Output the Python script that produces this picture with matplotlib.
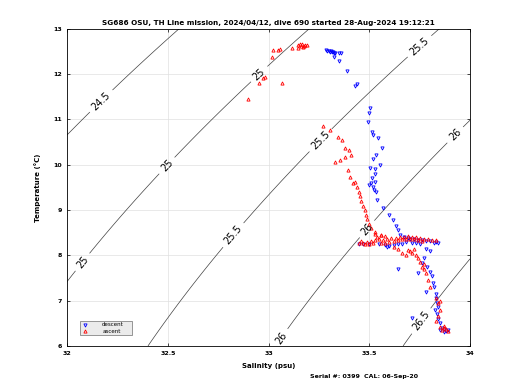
import numpy as np
import matplotlib
matplotlib.use("Agg")
import matplotlib.pyplot as plt

# descent (blue) and ascent (red) T-S points
desc_s = [33.285, 33.29, 33.30, 33.31, 33.32, 33.305, 33.315, 33.325, 33.33, 33.35, 33.36,
          33.325, 33.35, 33.39, 33.44, 33.43,
          33.504, 33.50, 33.495, 33.514, 33.516, 33.545, 33.565, 33.535, 33.52, 33.555,
          33.53, 33.505, 33.53, 33.515, 33.53, 33.50, 33.52, 33.51, 33.525, 33.535, 33.54,
          33.57, 33.60, 33.615, 33.63, 33.64, 33.65,
          33.67, 33.69, 33.70, 33.72, 33.74, 33.76, 33.78, 33.80, 33.82, 33.83, 33.84,
          33.68, 33.71, 33.73, 33.75, 33.66, 33.64, 33.62, 33.60, 33.58, 33.55, 33.50,
          33.47, 33.45, 33.59,
          33.78, 33.80, 33.77, 33.76, 33.785, 33.80, 33.81, 33.815, 33.82, 33.83, 33.83,
          33.835, 33.84, 33.825, 33.835, 33.84, 33.85, 33.86, 33.87, 33.85, 33.88, 33.89,
          33.87, 33.71, 33.64, 33.74, 33.78]
desc_t = [12.53, 12.52, 12.52, 12.51, 12.50, 12.49, 12.48, 12.46, 12.47, 12.47, 12.46,
          12.38, 12.29, 12.07, 11.78, 11.74,
          11.26, 11.15, 10.95, 10.73, 10.65, 10.58, 10.37, 10.22, 10.12, 10.00,
          9.90, 9.93, 9.80, 9.70, 9.62, 9.55, 9.50, 9.60, 9.45, 9.40, 9.22,
          9.05, 8.88, 8.78, 8.65, 8.55, 8.45,
          8.40, 8.38, 8.35, 8.36, 8.33, 8.34, 8.31, 8.32, 8.28, 8.30, 8.27,
          8.30, 8.28, 8.27, 8.25, 8.25, 8.24, 8.22, 8.20, 8.22, 8.25, 8.25,
          8.25, 8.24, 8.18,
          8.15, 8.10, 7.95, 7.83, 7.74, 7.63, 7.55, 7.40, 7.30, 7.15, 7.05,
          6.95, 6.85, 6.80, 6.70, 6.60, 6.50, 6.40, 6.38, 6.35, 6.33, 6.36,
          6.30, 6.62, 7.70, 7.60, 7.20]

asc_s = [33.86, 33.87, 33.88, 33.85, 33.87, 33.89, 33.83, 33.84, 33.85, 33.84, 33.85,
         33.83, 33.80, 33.79, 33.78, 33.77, 33.76, 33.75, 33.77, 33.74, 33.73, 33.71,
         33.70, 33.69, 33.72, 33.66, 33.68, 33.64, 33.62,
         33.45, 33.47, 33.49, 33.51, 33.53, 33.55, 33.57, 33.59, 33.61, 33.63, 33.65,
         33.67, 33.69, 33.71, 33.73, 33.75, 33.77, 33.79, 33.81, 33.83, 33.60, 33.62,
         33.64, 33.66, 33.68, 33.70, 33.72, 33.74, 33.76, 33.56, 33.52, 33.50, 33.48,
         33.46, 33.58, 33.54, 33.56, 33.53,
         33.58, 33.56, 33.53, 33.51, 33.50, 33.49, 33.485, 33.48, 33.47, 33.46, 33.455,
         33.45, 33.44, 33.42, 33.43, 33.404, 33.395, 33.33, 33.355, 33.38, 33.41, 33.40,
         33.38, 33.365, 33.345, 33.305, 33.27,
         33.067, 32.898, 32.953, 32.973, 32.983, 33.022, 33.017, 33.047, 33.055, 33.117,
         33.146, 33.156, 33.166, 33.181, 33.191, 33.17, 33.146, 33.175, 33.16]
asc_t = [6.35, 6.40, 6.38, 6.42, 6.45, 6.33, 6.55, 6.65, 6.80, 6.95, 7.00,
         7.05, 7.30, 7.45, 7.60, 7.70, 7.75, 7.85, 7.80, 7.95, 8.00, 8.05,
         8.10, 8.12, 8.14, 8.05, 8.00, 8.15, 8.18,
         8.28, 8.27, 8.30, 8.32, 8.33, 8.35, 8.34, 8.36, 8.38, 8.39, 8.40,
         8.41, 8.42, 8.41, 8.40, 8.38, 8.37, 8.36, 8.34, 8.33, 8.30, 8.32,
         8.33, 8.35, 8.36, 8.37, 8.35, 8.34, 8.32, 8.28, 8.27, 8.26, 8.25,
         8.31, 8.27, 8.40, 8.44, 8.48,
         8.42, 8.45, 8.52, 8.60, 8.70, 8.80, 8.90, 9.00, 9.10, 9.20, 9.30,
         9.40, 9.50, 9.60, 9.62, 9.73, 9.89, 10.06, 10.11, 10.17, 10.22, 10.33,
         10.37, 10.55, 10.62, 10.77, 10.85,
         11.81, 11.45, 11.81, 11.92, 11.94, 12.54, 12.38, 12.54, 12.55, 12.58,
         12.65, 12.67, 12.67, 12.65, 12.65, 12.60, 12.58, 12.63, 12.62]

sigma_levels = [24.5, 25.0, 25.5, 26.0, 26.5]
label_pos = [(32.164, 11.43),
             (32.074, 7.86), (32.491, 10.0), (32.958, 11.98),
             (32.824, 8.45), (33.256, 10.55), (33.752, 12.60),
             (33.007, 6.35), (33.494, 8.56), (33.926, 10.66),
             (33.752, 6.57)]


def sigma0(S, T):
    # UNESCO 1983 density at surface pressure, minus 1000
    rw = (999.842594 + 6.793952e-2 * T - 9.095290e-3 * T**2 + 1.001685e-4 * T**3
          - 1.120083e-6 * T**4 + 6.536332e-9 * T**5)
    A = 0.824493 - 4.0899e-3 * T + 7.6438e-5 * T**2 - 8.2467e-7 * T**3 + 5.3875e-9 * T**4
    B = -5.72466e-3 + 1.0227e-4 * T - 1.6546e-6 * T**2
    return rw + A * S + B * S**1.5 + 4.8314e-4 * S**2 - 1000.0


fig = plt.figure(figsize=(5.2, 3.9), dpi=100)
ax = fig.add_axes([0.129, 0.113, 0.775, 0.813])

sg, tg = np.meshgrid(np.linspace(32, 34, 200), np.linspace(6, 13, 200))
cs = ax.contour(sg, tg, sigma0(sg, tg), levels=sigma_levels, colors='0.25', linewidths=0.5)
ax.clabel(cs, fmt=lambda v: f'{v:g}', fontsize=7, inline=True, manual=label_pos, colors='k')

ax.plot(desc_s, desc_t, 'v', color='blue', markersize=2.3, mfc='none', mew=0.6,
        label='descent', zorder=3)
ax.plot(asc_s, asc_t, '^', color='red', markersize=2.3, mfc='none', mew=0.6,
        label='ascent', zorder=3)

ax.set_xlim(32, 34)
ax.set_ylim(6, 13)
ax.set_xticks([32, 32.5, 33, 33.5, 34])
ax.set_xticklabels(['32', '32.5', '33', '33.5', '34'])
ax.set_yticks(range(6, 14))
ax.tick_params(labelsize=4.5, length=2, width=0.5, direction='in', top=True, right=True)
for lab in ax.get_xticklabels() + ax.get_yticklabels():
    lab.set_fontweight('bold')
ax.grid(True, color='0.88', linewidth=0.5)
ax.set_axisbelow(True)
for sp in ax.spines.values():
    sp.set_linewidth(0.6)

ax.set_xlabel('Salinity (psu)', fontsize=5, fontweight='bold', labelpad=5)
ax.set_ylabel('Temperature (\u00b0C)', fontsize=5, fontweight='bold', labelpad=9)
ax.set_title('SG686 OSU, TH Line mission, 2024/04/12, dive 690 started 28-Aug-2024 19:12:21',
             fontsize=5.2, fontweight='bold', pad=3)

leg = ax.legend(loc='lower left', bbox_to_anchor=(0.025, 0.025, 0.144, 0.057),
                mode='expand', fontsize=4, frameon=True, fancybox=False,
                borderpad=0.3, handletextpad=2.5, labelspacing=0.2, handlelength=1.2)
leg.get_frame().set_facecolor('0.9')
leg.get_frame().set_edgecolor('0.3')
leg.get_frame().set_linewidth(0.5)

fig.text(0.597, 0.03, 'Serial #: 0399  CAL: 06-Sep-20', fontsize=4.5, fontweight='bold')

fig.savefig('out.png', dpi=100)
